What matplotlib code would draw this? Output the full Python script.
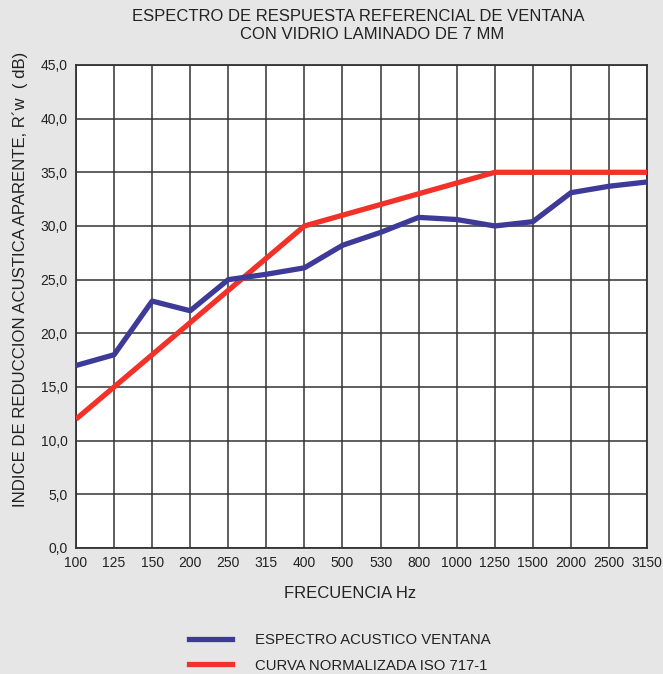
import matplotlib
matplotlib.use("Agg")
import matplotlib.pyplot as plt
from matplotlib.lines import Line2D

# ── Datos ─────────────────────────────────────────────────────────────────────
FRECUENCIAS = ["100", "125", "150", "200", "250", "315", "400", "500",
               "530", "800", "1000", "1250", "1500", "2000", "2500", "3150"]
ESPECTRO_VENTANA = [17.0, 18.0, 23.0, 22.1, 25.0, 25.5, 26.1, 28.2,
                    29.4, 30.8, 30.6, 30.0, 30.4, 33.1, 33.7, 34.1]
CURVA_ISO = [12, 15, 18, 21, 24, 27, 30, 31,
             32, 33, 34, 35, 35, 35, 35, 35]
Y_TICKS = [0, 5, 10, 15, 20, 25, 30, 35, 40, 45]

C_AZUL = "#3d3a98"
C_ROJO = "#f23129"
C_FONDO = "#e6e6e6"
C_GRID = "#333333"
C_TEXTO = "#222222"

plt.rcParams["font.family"] = ["Liberation Sans", "DejaVu Sans"]

fig = plt.figure(figsize=(6.63, 6.74), dpi=100, facecolor=C_FONDO)
ax = fig.add_axes([0.1146, 0.187, 0.8614, 0.7166])
ax.set_facecolor("white")

x = list(range(len(FRECUENCIAS)))
ax.plot(x, CURVA_ISO, color=C_ROJO, lw=3.8, solid_capstyle="butt", zorder=3)
ax.plot(x, ESPECTRO_VENTANA, color=C_AZUL, lw=3.8, solid_capstyle="butt", zorder=4)

ax.set_xlim(0, len(FRECUENCIAS) - 1)
ax.set_ylim(0, 45)
ax.set_xticks(x)
ax.set_xticklabels(FRECUENCIAS)
ax.set_yticks(Y_TICKS)
ax.set_yticklabels([f"{v:.1f}".replace(".", ",") for v in Y_TICKS])
ax.tick_params(length=0, labelsize=10, colors=C_TEXTO)
ax.tick_params(axis="x", pad=6)
ax.tick_params(axis="y", pad=6)
ax.grid(True, color=C_GRID, lw=1.1, zorder=1)
for s in ax.spines.values():
    s.set_color(C_GRID)
    s.set_linewidth(1.3)

# Titulo en dos lineas, cada una con su propio centro
fig.text(0.540, 0.975, "ESPECTRO DE RESPUESTA REFERENCIAL DE VENTANA",
         ha="center", va="center", fontsize=12, color=C_TEXTO)
fig.text(0.562, 0.949, "CON VIDRIO LAMINADO DE 7 MM",
         ha="center", va="center", fontsize=12, color=C_TEXTO)
fig.text(0.528, 0.12, "FRECUENCIA Hz", ha="center", va="center",
         fontsize=12, color=C_TEXTO)
fig.text(0.03, 0.585, "INDICE DE REDUCCION ACUSTICA APARENTE, R´w  ( dB)",
         ha="center", va="center", rotation=90, fontsize=12.1, color=C_TEXTO)

handles = [Line2D([], [], color=C_AZUL, lw=3.8),
           Line2D([], [], color=C_ROJO, lw=3.8)]
fig.legend(handles, ["ESPECTRO ACUSTICO VENTANA", "CURVA NORMALIZADA ISO 717-1"],
           loc="upper left", bbox_to_anchor=(0.265, 0.08), frameon=False,
           fontsize=10.7, handlelength=2.9, handletextpad=1.55, labelspacing=0.75,
           labelcolor=C_TEXTO)

fig.savefig("out.png", dpi=100, facecolor=C_FONDO)
